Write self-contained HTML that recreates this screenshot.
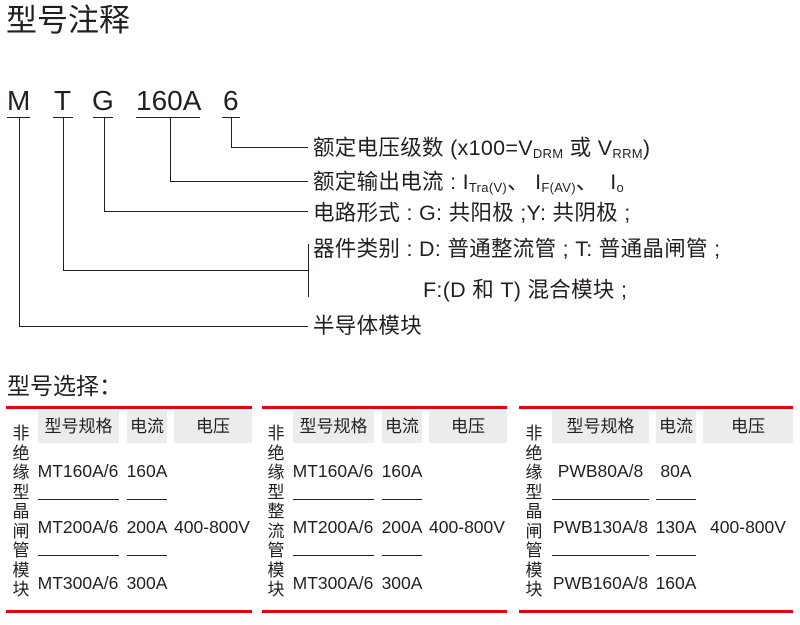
<!DOCTYPE html>
<html><head><meta charset="utf-8">
<style>
body{margin:0;width:800px;height:625px;background:#fff;position:relative;overflow:hidden;font-family:"Liberation Sans","Noto Sans CJK SC",sans-serif;color:#231f20}
.a{position:absolute;white-space:nowrap}
.l{position:absolute;background:#231f20}
.big{font-size:28px;line-height:30px}
.r{font-size:21.5px;line-height:24px;letter-spacing:0.3px}
sub{font-size:13px;vertical-align:-3px}
.red{position:absolute;height:3px;background:#e60012}
.g{position:absolute;background:#ececec;font-size:17px;line-height:32px;text-align:center;top:411px;height:32px}
.c{position:absolute;font-size:17.5px;line-height:20px;text-align:center;white-space:nowrap}
.v{position:absolute;font-size:17px;line-height:19.5px;width:20px;text-align:center}
.d{position:absolute;height:1px;background:#231f20}
</style></head><body>
<div class="a" style="left:6px;top:1px;font-size:31px;line-height:40px">型号注释</div>

<div class="a big" style="left:7px;top:86px">M</div>
<div class="a big" style="left:54px;top:86px">T</div>
<div class="a big" style="left:92px;top:86px">G</div>
<div class="a big" style="left:136px;top:86px">160A</div>
<div class="a big" style="left:223px;top:86px">6</div>
<div class="l" style="left:7px;top:117px;width:23px;height:1px"></div>
<div class="l" style="left:53px;top:117px;width:20px;height:1px"></div>
<div class="l" style="left:93px;top:117px;width:20px;height:1px"></div>
<div class="l" style="left:136px;top:117px;width:64px;height:1px"></div>
<div class="l" style="left:222px;top:117px;width:18px;height:1px"></div>
<div class="l" style="left:231px;top:117px;width:1px;height:31px"></div>
<div class="l" style="left:231px;top:147px;width:77px;height:1px"></div>
<div class="l" style="left:170px;top:117px;width:1px;height:65px"></div>
<div class="l" style="left:170px;top:181px;width:138px;height:1px"></div>
<div class="l" style="left:104px;top:117px;width:1px;height:95px"></div>
<div class="l" style="left:104px;top:211px;width:204px;height:1px"></div>
<div class="l" style="left:63px;top:117px;width:1px;height:154px"></div>
<div class="l" style="left:63px;top:270px;width:245px;height:1px"></div>
<div class="l" style="left:308px;top:244px;width:1px;height:53px"></div>
<div class="l" style="left:19px;top:117px;width:1px;height:210px"></div>
<div class="l" style="left:19px;top:326px;width:289px;height:1px"></div>

<div class="a r" style="left:313px;top:136px">额定电压级数 (x100=V<sub>DRM</sub> 或 V<sub>RRM</sub>)</div>
<div class="a r" style="left:313px;top:170px">额定输出电流 : I<sub>Tra(V)</sub>、 I<sub>F(AV)</sub>、 &nbsp;I<sub>o</sub></div>
<div class="a r" style="left:313px;top:201px">电路形式 : G: 共阳极 ;Y: 共阴极 ;</div>
<div class="a r" style="left:313px;top:237px">器件类别 : D: 普通整流管 ; T: 普通晶闸管 ;</div>
<div class="a r" style="left:423px;top:278px">F:(D 和 T) 混合模块 ;</div>
<div class="a r" style="left:313px;top:314px">半导体模块</div>

<div class="a" style="left:7px;top:370px;font-size:23px;line-height:32px">型号选择：</div>

<div class="red" style="left:6px;top:406px;width:246px"></div>
<div class="red" style="left:6px;top:610px;width:246px"></div>
<div class="red" style="left:262px;top:406px;width:245px"></div>
<div class="red" style="left:262px;top:610px;width:245px"></div>
<div class="red" style="left:519px;top:406px;width:274px"></div>
<div class="red" style="left:519px;top:610px;width:274px"></div>

<div class="v" style="left:11px;top:424px">非<br>绝<br>缘<br>型<br>晶<br>闸<br>管<br>模<br>块</div>
<div class="g" style="left:38px;width:81px">型号规格</div>
<div class="g" style="left:127px;width:40px">电流</div>
<div class="g" style="left:174px;width:78px">电压</div>
<div class="c" style="left:36px;width:84px;top:461px">MT160A/6</div>
<div class="c" style="left:36px;width:84px;top:517px">MT200A/6</div>
<div class="c" style="left:36px;width:84px;top:573px">MT300A/6</div>
<div class="c" style="left:125px;width:44px;top:461px">160A</div>
<div class="c" style="left:125px;width:44px;top:517px">200A</div>
<div class="c" style="left:125px;width:44px;top:573px">300A</div>
<div class="c" style="left:172px;width:80px;top:517px">400-800V</div>
<div class="d" style="left:38px;top:499px;width:81px"></div>
<div class="d" style="left:127px;top:499px;width:40px"></div>
<div class="d" style="left:38px;top:555px;width:81px"></div>
<div class="d" style="left:127px;top:555px;width:40px"></div>

<div class="v" style="left:266px;top:424px">非<br>绝<br>缘<br>型<br>整<br>流<br>管<br>模<br>块</div>
<div class="g" style="left:293px;width:81px">型号规格</div>
<div class="g" style="left:382px;width:40px">电流</div>
<div class="g" style="left:429px;width:78px">电压</div>
<div class="c" style="left:291px;width:84px;top:461px">MT160A/6</div>
<div class="c" style="left:291px;width:84px;top:517px">MT200A/6</div>
<div class="c" style="left:291px;width:84px;top:573px">MT300A/6</div>
<div class="c" style="left:380px;width:44px;top:461px">160A</div>
<div class="c" style="left:380px;width:44px;top:517px">200A</div>
<div class="c" style="left:380px;width:44px;top:573px">300A</div>
<div class="c" style="left:427px;width:80px;top:517px">400-800V</div>
<div class="d" style="left:293px;top:499px;width:81px"></div>
<div class="d" style="left:382px;top:499px;width:40px"></div>
<div class="d" style="left:293px;top:555px;width:81px"></div>
<div class="d" style="left:382px;top:555px;width:40px"></div>

<div class="v" style="left:524px;top:424px">非<br>绝<br>缘<br>型<br>晶<br>闸<br>管<br>模<br>块</div>
<div class="g" style="left:552px;width:97px">型号规格</div>
<div class="g" style="left:656px;width:40px">电流</div>
<div class="g" style="left:703px;width:90px">电压</div>
<div class="c" style="left:548px;width:105px;top:461px">PWB80A/8</div>
<div class="c" style="left:548px;width:105px;top:517px">PWB130A/8</div>
<div class="c" style="left:548px;width:105px;top:573px">PWB160A/8</div>
<div class="c" style="left:654px;width:44px;top:461px">80A</div>
<div class="c" style="left:654px;width:44px;top:517px">130A</div>
<div class="c" style="left:654px;width:44px;top:573px">160A</div>
<div class="c" style="left:703px;width:90px;top:517px">400-800V</div>
<div class="d" style="left:552px;top:499px;width:97px"></div>
<div class="d" style="left:656px;top:499px;width:40px"></div>
<div class="d" style="left:552px;top:555px;width:97px"></div>
<div class="d" style="left:656px;top:555px;width:40px"></div>
</body></html>
